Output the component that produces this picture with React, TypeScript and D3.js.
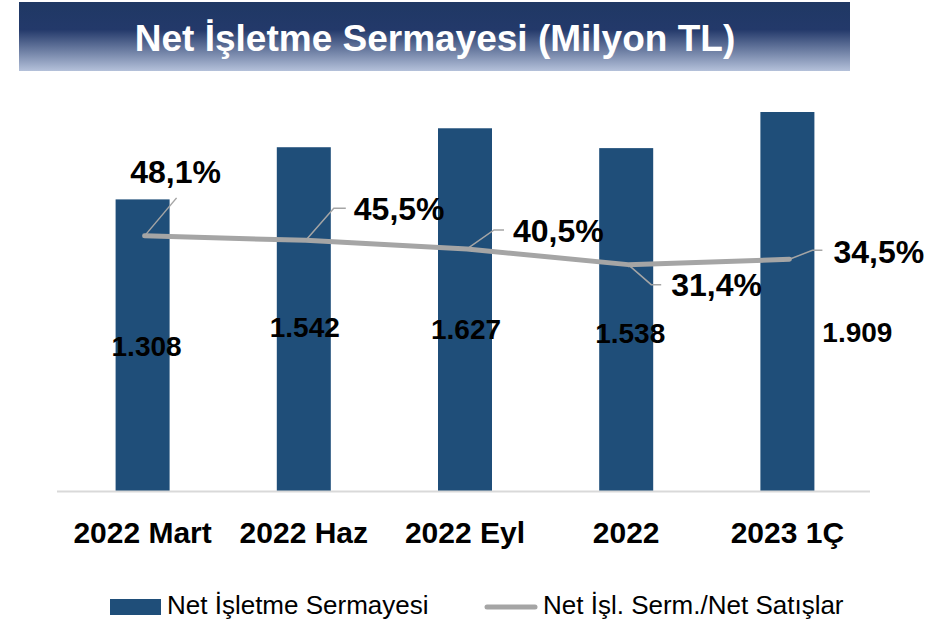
import React, { useEffect, useRef } from 'react';
import * as d3 from 'd3';

const categories = ['2022 Mart', '2022 Haz', '2022 Eyl', '2022', '2023 1Ç'];
const workingCapital = [1308, 1542, 1627, 1538, 1909];
const ratioPct = [48.1, 45.5, 40.5, 31.4, 34.5];

// label placement (manual, like the source deck)
const valueLabelPos = [
    { dx: 4, y: 356 },
    { dx: 1, y: 337 },
    { dx: 1, y: 339 },
    { dx: 4, y: 343 },
    { dx: 70, y: 342 },
];
const pctLabelPos = [
    { ex: 32, ey: -38, hx: 0, tx: 31, ty: -53, anchor: 'middle' },
    { ex: 28, ey: -32, hx: 12, tx: 48, ty: -20, anchor: 'start' },
    { ex: 27, ey: -19, hx: 10, tx: 46, ty: -7, anchor: 'start' },
    { ex: 23, ey: 20, hx: 10, tx: 43, ty: 31, anchor: 'start' },
    { ex: 23, ey: -9, hx: 10, tx: 44, ty: 4, anchor: 'start' },
];

const W = 950;
const H = 626;
const FONT = '"Liberation Sans", Arial, sans-serif';

const App: React.FC = () => {
    const svgRef = useRef<SVGSVGElement>(null);

    useEffect(() => {
        if (!svgRef.current) return;
        const svg = d3.select(svgRef.current);
        svg.selectAll('*').remove();

        const tr = d3.formatLocale({ decimal: ',', thousands: '.', grouping: [3], currency: ['', ''] });
        const fmtVal = tr.format(',d');
        const fmtPct = tr.format('.1f');

        const baseY = 491;
        const topY = 112;

        const x = d3.scaleBand<string>()
            .domain(categories)
            .range([62, 868])
            .paddingInner(0.665)
            .paddingOuter(0.3325);
        const y = d3.scaleLinear().domain([0, 1700]).range([baseY, topY]).clamp(true);
        const y2 = d3.scaleLinear().domain([-100, 120]).range([baseY, topY]);
        const cx = (c: string) => (x(c) as number) + x.bandwidth() / 2;

        // title banner
        const defs = svg.append('defs');
        const grad = defs.append('linearGradient')
            .attr('id', 'bannerGrad')
            .attr('x1', 0).attr('y1', 0).attr('x2', 0).attr('y2', 1);
        grad.append('stop').attr('offset', '0%').attr('stop-color', '#1f3864');
        grad.append('stop').attr('offset', '40%').attr('stop-color', '#23396a');
        grad.append('stop').attr('offset', '100%').attr('stop-color', '#b4c1da');

        svg.append('rect')
            .attr('x', 19).attr('y', 2)
            .attr('width', 831).attr('height', 69)
            .attr('fill', 'url(#bannerGrad)');

        svg.append('text')
            .attr('x', 435).attr('y', 51)
            .attr('text-anchor', 'middle')
            .attr('fill', '#fff')
            .style('font-family', FONT)
            .style('font-weight', 'bold')
            .style('font-size', '37px')
            .text('Net İşletme Sermayesi (Milyon TL)');

        // bars
        svg.append('g')
            .selectAll('rect')
            .data(categories)
            .join('rect')
            .attr('x', d => x(d) as number)
            .attr('y', (d, i) => y(workingCapital[i]))
            .attr('width', x.bandwidth())
            .attr('height', (d, i) => baseY - y(workingCapital[i]))
            .attr('fill', '#1f4e79');

        // category axis line
        svg.append('line')
            .attr('x1', 57).attr('x2', 870)
            .attr('y1', baseY + 0.5).attr('y2', baseY + 0.5)
            .attr('stroke', '#d9d9d9')
            .attr('stroke-width', 2);

        svg.append('g')
            .selectAll('text')
            .data(categories)
            .join('text')
            .attr('x', d => cx(d))
            .attr('y', 543)
            .attr('text-anchor', 'middle')
            .attr('fill', '#000')
            .style('font-family', FONT)
            .style('font-weight', 'bold')
            .style('font-size', '30px')
            .text(d => d);

        // value labels
        svg.append('g')
            .selectAll('text')
            .data(categories)
            .join('text')
            .attr('x', (d, i) => cx(d) + valueLabelPos[i].dx)
            .attr('y', (d, i) => valueLabelPos[i].y)
            .attr('text-anchor', 'middle')
            .attr('fill', '#000')
            .style('font-family', FONT)
            .style('font-weight', 'bold')
            .style('font-size', '28px')
            .text((d, i) => fmtVal(workingCapital[i]));

        // ratio line
        const pts = categories.map((c, i) => [cx(c) + 2, y2(ratioPct[i])] as [number, number]);
        svg.append('path')
            .attr('d', d3.line()(pts))
            .attr('fill', 'none')
            .attr('stroke', '#a5a5a5')
            .attr('stroke-width', 5)
            .attr('stroke-linecap', 'round')
            .attr('stroke-linejoin', 'round');

        // leader lines + percentage labels
        const lab = svg.append('g');
        pts.forEach(([px, py], i) => {
            const p = pctLabelPos[i];
            const pathD = `M${px},${py}L${px + p.ex},${py + p.ey}` + (p.hx ? `l${p.hx},0` : '');
            lab.append('path')
                .attr('d', pathD)
                .attr('fill', 'none')
                .attr('stroke', '#a5a5a5')
                .attr('stroke-width', 1.5);
            lab.append('text')
                .attr('x', px + p.tx)
                .attr('y', py + p.ty)
                .attr('text-anchor', p.anchor)
                .attr('fill', '#000')
                .style('font-family', FONT)
                .style('font-weight', 'bold')
                .style('font-size', '32px')
                .text(fmtPct(ratioPct[i]) + '%');
        });

        // legend
        const lg = svg.append('g');
        lg.append('rect')
            .attr('x', 110).attr('y', 599)
            .attr('width', 51).attr('height', 16)
            .attr('fill', '#1f4e79');
        lg.append('text')
            .attr('x', 167).attr('y', 614)
            .attr('fill', '#000')
            .style('font-family', FONT)
            .style('font-size', '26px')
            .text('Net İşletme Sermayesi');
        lg.append('line')
            .attr('x1', 487).attr('x2', 535)
            .attr('y1', 607).attr('y2', 607)
            .attr('stroke', '#a5a5a5')
            .attr('stroke-width', 5)
            .attr('stroke-linecap', 'round');
        lg.append('text')
            .attr('x', 543).attr('y', 614)
            .attr('fill', '#000')
            .style('font-family', FONT)
            .style('font-size', '26px')
            .text('Net İşl. Serm./Net Satışlar');
    }, []);

    return (
        <svg
            ref={svgRef}
            width={W}
            height={H}
            style={{ position: 'absolute', left: 0, top: 0, background: '#fff' }}
        />
    );
};

export default App;
